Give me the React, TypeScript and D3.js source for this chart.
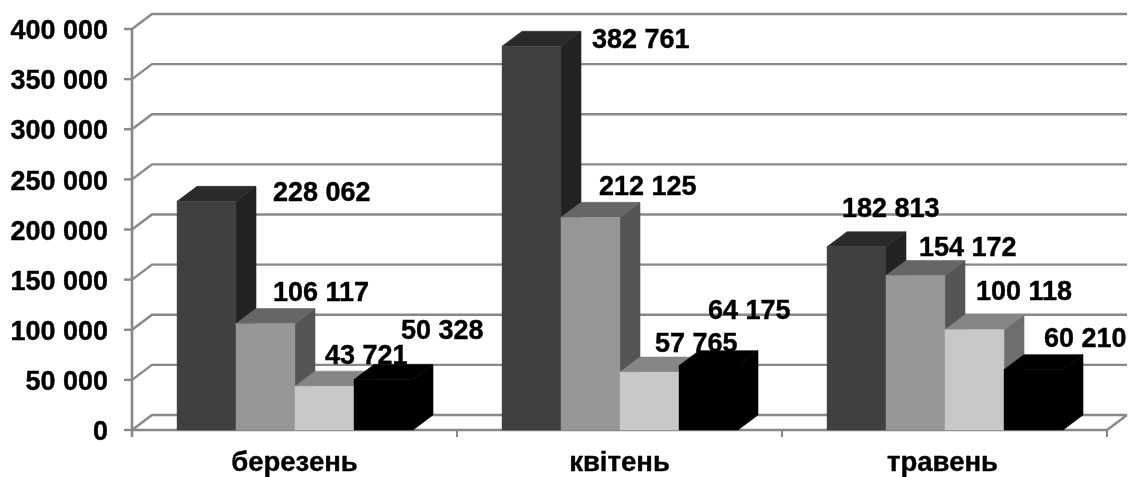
import React from "react";
import * as d3 from "d3";

const categories = ["березень", "квітень", "травень"];
const seriesA = [228062, 382761, 182813];
const seriesB = [106117, 212125, 154172];
const seriesC = [43721, 57765, 100118];
const seriesD = [50328, 64175, 60210];
const yTicks = [0, 50000, 100000, 150000, 200000, 250000, 300000, 350000, 400000];

const W = 1129, H = 477;
const depthX = 20, depthY = 15;
const FONT = "'Liberation Sans', Arial, sans-serif";
const GRID = "#888888";

// hand placement of data labels: [dx from bar's left edge, dy from bar's top] per series per category
const labelNudges: [number, number][][] = [
  [[96, -10], [90, -8], [15, -39]],
  [[37, -32], [38, -32], [33, -29]],
  [[30, -32], [35, -30], [31, -39]],
  [[47, -50], [29, -56], [40, -32]],
];

const styles = [
  { front: "#404040", top: "#2b2b2b", side: "#222222" },
  { front: "#969696", top: "#666666", side: "#555555" },
  { front: "#c8c8c8", top: "#868686", side: "#6e6e6e" },
  { front: "#000000", top: "#000000", side: "#000000" },
];

const allSeries = [seriesA, seriesB, seriesC, seriesD];
const fmt = (v: number) => d3.format(",")(v).replace(/,/g, " ");

export default function App() {
  const y = d3.scaleLinear().domain([0, 400000]).range([430, 29]);
  const x0 = d3.scaleBand<string>().domain(categories).range([132, 1107]);
  const x1 = d3.scaleBand<number>().domain([0, 1, 2, 3]).range([45, 281]);
  const bw = x1.bandwidth();
  const x0Edges = [...categories.map((c) => x0(c)!), 1107];
  const poly = (pts: [number, number][]) => pts.map((p) => p.join(",")).join(" ");
  const L = 132, R = 1107;
  return (
    <svg
      width={W}
      height={H}
      style={{ position: "absolute", left: 0, top: 0, background: "#fff" }}
      fontFamily={FONT}
      fontWeight="bold"
    >
      <defs>
        <filter id="soft" x="-2%" y="-2%" width="104%" height="104%">
          <feGaussianBlur stdDeviation="0.45" />
        </filter>
      </defs>
      <g filter="url(#soft)">
        {yTicks.map((t) => (
          <g key={t} stroke={GRID} strokeWidth={2.4} fill="none">
            <polyline points={poly([[L, y(t)], [L + depthX, y(t) - depthY], [R + depthX, y(t) - depthY]])} />
            <line x1={L - 8} x2={L} y1={y(t)} y2={y(t)} />
          </g>
        ))}
        <line x1={L} x2={L} y1={y(400000)} y2={437} stroke={GRID} strokeWidth={2.6} />
        <line x1={L} x2={R} y1={y(0)} y2={y(0)} stroke={GRID} strokeWidth={2.6} />
        <line x1={R} x2={R + depthX} y1={y(0)} y2={y(0) - depthY} stroke={GRID} strokeWidth={2.4} />
        {x0Edges.map((e) => (
          <line key={e} x1={e} x2={e} y1={y(0)} y2={437} stroke={GRID} strokeWidth={2} />
        ))}
        {categories.map((c, ci) =>
          allSeries.map((s, si) => {
            const v = s[ci];
            const a = x0(c)! + x1(si)!;
            const b = a + bw;
            const t = y(v);
            const f = y(0);
            const st = styles[si];
            return (
              <g key={c + si}>
                <polygon points={poly([[b, f], [b + depthX, f - depthY], [b + depthX, t - depthY], [b, t]])} fill={st.side} stroke={st.side} strokeWidth={0.6} />
                <polygon points={poly([[a, t], [a + depthX, t - depthY], [b + depthX, t - depthY], [b, t]])} fill={st.top} stroke={st.top} strokeWidth={0.6} />
                <rect x={a} y={t} width={bw} height={f - t} fill={st.front} stroke={st.front} strokeWidth={0.4} />
              </g>
            );
          })
        )}
        {yTicks.map((t) => (
          <text key={t} x={108} y={y(t) + 0.5} dy="0.36em" textAnchor="end" fontSize={27} fill="#000" stroke="#000" strokeWidth={0.4}>
            {fmt(t)}
          </text>
        ))}
        {categories.map((c, ci) => (
          <text key={c} x={x0(c)! + x0.bandwidth() / 2 + (ci === 2 ? -2 : 0)} y={470.5} textAnchor="middle" fontSize={27.5} fill="#000" stroke="#000" strokeWidth={0.4}>
            {c}
          </text>
        ))}
        {categories.map((c, ci) =>
          allSeries.map((s, si) => {
            const [dx, dy] = labelNudges[si][ci];
            return (
              <text
                key={c + si}
                x={x0(c)! + x1(si)! + dx}
                y={y(s[ci]) + dy}
                dy="0.36em"
                fontSize={27}
                fill="#000"
                stroke="#000"
                strokeWidth={0.4}
              >
                {fmt(s[ci])}
              </text>
            );
          })
        )}
      </g>
    </svg>
  );
}
